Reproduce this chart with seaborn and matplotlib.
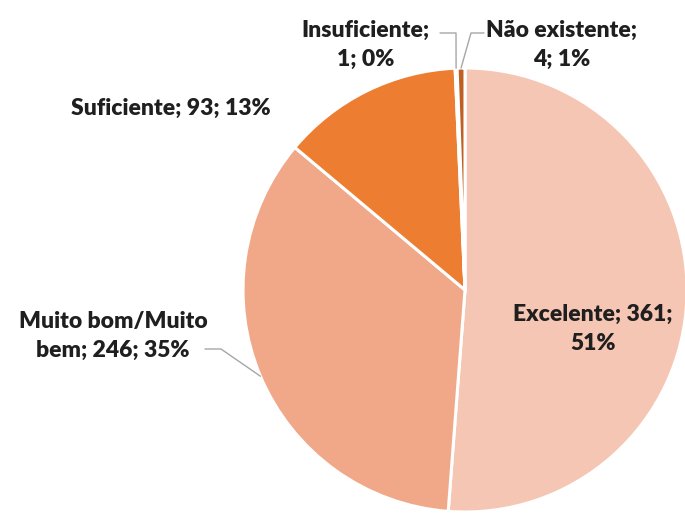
import numpy as np
import matplotlib
matplotlib.use("Agg")
import matplotlib.pyplot as plt
import seaborn as sns

categories = ["Excelente", "Muito bom/Muito\nbem", "Suficiente", "Insuficiente",
              "Não existente"]
counts = [361, 246, 93, 1, 4]
percents = ["51%", "35%", "13%", "0%", "1%"]
label_texts = ["Excelente; 361;\n51%", "Muito bom/Muito\nbem; 246; 35%",
               "Suficiente; 93; 13%", "Insuficiente;\n1; 0%", "Não existente;\n4; 1%"]
colors = ["#F5C6B4", "#F0A889", "#ED7D31", "#D8712E", "#BF5F24"]

sns.set_theme(style="white")
plt.rcParams["font.family"] = ["Lato", "DejaVu Sans"]

W, H = 685, 513
CX, CY, R = 465, 290, 222

fig = plt.figure(figsize=(W / 100, H / 100), dpi=100, facecolor="white")
ax = fig.add_axes([0, 0, 1, 1])

wedges, _ = ax.pie(counts, colors=colors, startangle=90, counterclock=False,
                   radius=1.0, wedgeprops=dict(edgecolor="white", linewidth=2.2))

# pie() resets the limits, so set them afterwards
ax.set_aspect("auto")
ax.set_xlim(-CX / R, (W - CX) / R)
ax.set_ylim((CY - H) / R, CY / R)
ax.axis("off")


def px(x, y):
    return ((x - CX) / R, (CY - y) / R)


def edge_point(w, frac=0.5):
    ang = np.deg2rad(w.theta1 + (w.theta2 - w.theta1) * frac)
    return (np.cos(ang), np.sin(ang))


text_kw = dict(fontsize=16.5, fontweight="heavy", color="#1F1F1F",
               ha="center", va="center", linespacing=1.5)
line_kw = dict(color="#A6A6A6", lw=1.0)

# Excelente - inside the slice
ax.text(*px(593, 329), label_texts[0], **text_kw)

# Muito bom with leader line
ax.text(*px(113, 336), label_texts[1], **text_kw)
tip = edge_point(wedges[1], 0.5)
p0, p1 = px(205, 349), px(221, 349)
ax.plot([p0[0], p1[0], tip[0]], [p0[1], p1[1], tip[1]], **line_kw)

# Suficiente
ax.text(*px(171, 108), label_texts[2], **text_kw)

# Insuficiente with leader line
ax.text(*px(366, 45), label_texts[3], **text_kw)
tip = edge_point(wedges[3])
p0, p1 = px(440, 33), px(456, 33)
ax.plot([p0[0], p1[0], tip[0]], [p0[1], p1[1], tip[1]], **line_kw)

# Não existente with leader line
ax.text(*px(562, 45), label_texts[4], **text_kw)
tip = edge_point(wedges[4])
p0, p1 = px(484, 33), px(471, 33)
ax.plot([p0[0], p1[0], tip[0]], [p0[1], p1[1], tip[1]], **line_kw)

fig.savefig("out.png", dpi=100, facecolor="white")
